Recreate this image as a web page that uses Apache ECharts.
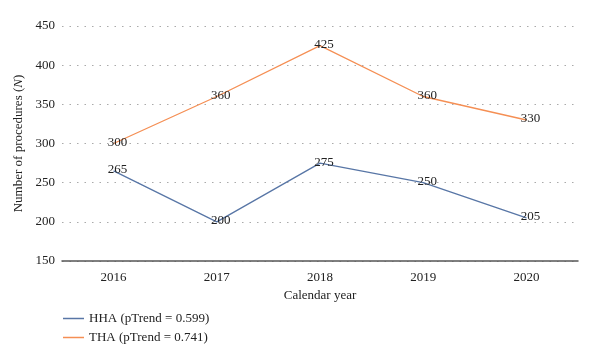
<!DOCTYPE html>
<html><head><meta charset="utf-8">
<script src="https://cdn.jsdelivr.net/npm/echarts@6/dist/echarts.min.js"></script>
<style>html,body{margin:0;padding:0;background:#fff}#c{width:600px;height:360px}</style>
</head><body><div id="c"></div>
<script>
const categories = ['2016','2017','2018','2019','2020'];
const hha = [265, 200, 275, 250, 205];
const tha = [300, 360, 425, 360, 330];
const seriesNames = ['HHA (pTrend = 0.599)', 'THA (pTrend = 0.741)'];
const yTicks = {min:150, max:450, interval:50};

const FONT = '"Liberation Serif", "DejaVu Serif", serif';
const chart = echarts.init(document.getElementById('c'));
const lbl = {show:true, position:'inside', offset:[4,-1], color:'#222', fontFamily:FONT, fontSize:13};
chart.setOption({
  animation:false,
  textStyle:{fontFamily:FONT},
  grid:{left:62, right:22, top:26, bottom:99},
  legend:{
    orient:'vertical', left:58, top:307, itemWidth:21, itemHeight:1.5, itemGap:6,
    icon:'rect',
    textStyle:{fontFamily:FONT, fontSize:13, color:'#222'},
    data:seriesNames
  },
  xAxis:{
    type:'category', data:categories, boundaryGap:true,
    name:'Calendar year', nameLocation:'middle', nameGap:27,
    nameTextStyle:{fontFamily:FONT, fontSize:13, color:'#222'},
    axisLine:{lineStyle:{color:'#555', width:1.5}},
    axisTick:{show:false},
    axisLabel:{fontFamily:FONT, fontSize:13, color:'#222', margin:10}
  },
  yAxis:{
    type:'value', min:yTicks.min, max:yTicks.max, interval:yTicks.interval,
    name:'Number of procedures ({i|N})', nameLocation:'middle', nameGap:35,
    nameTextStyle:{fontFamily:FONT, fontSize:13, color:'#222',
      rich:{i:{fontFamily:FONT, fontSize:13, fontStyle:'italic', color:'#222'}}},
    axisLine:{show:false}, axisTick:{show:false},
    axisLabel:{fontFamily:FONT, fontSize:13, color:'#222', margin:7},
    splitLine:{lineStyle:{type:[1.5,6], color:'#aaa', width:1.2}}
  },
  series:[
    {name:seriesNames[0], type:'line', data:hha, color:'#5876a6',
     symbol:'circle', symbolSize:0.5, showSymbol:true,
     lineStyle:{width:1.3, color:'#5876a6'}, label:lbl},
    {name:seriesNames[1], type:'line', data:tha, color:'#f58f54',
     symbol:'circle', symbolSize:0.5, showSymbol:true,
     lineStyle:{width:1.3, color:'#f58f54'}, label:lbl}
  ]
});
</script></body></html>
